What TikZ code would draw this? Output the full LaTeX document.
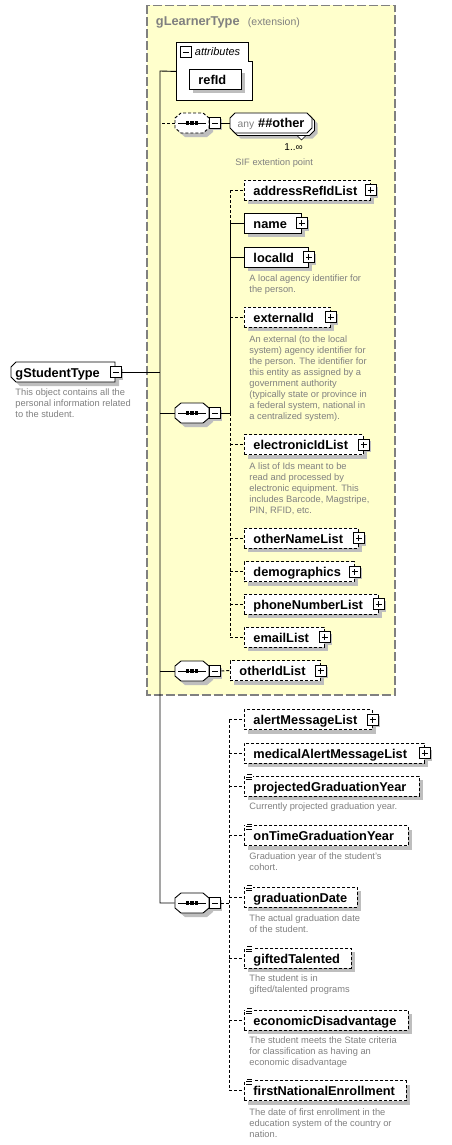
\documentclass[tikz,border=0pt]{standalone}
\usepackage{fontspec}
\setmainfont{Liberation Sans}
\definecolor{ylw}{RGB}{255,255,204}
\definecolor{dsc}{RGB}{128,128,128}
\definecolor{shdc}{RGB}{190,190,190}
\definecolor{brd}{RGB}{128,128,128}
\newcommand\elfont{\fontsize{12.8}{15}\selectfont\bfseries}
\newcommand\dfont{\fontsize{9.3}{11}\selectfont}
\newcommand\octpath{(-17,-5) -- (-11,-10) -- (11,-10) -- (17,-5) -- (17,5) -- (11,10) -- (-11,10) -- (-17,5) -- cycle}
\newcommand\anypath{(-41,-5) -- (-36,-10) -- (36,-10) -- (41,-5) -- (41,5) -- (36,10) -- (-36,10) -- (-41,5) -- cycle}
\newcommand\octa[2][]{\begin{scope}[shift={(#2.center)}]
  \fill[shdc,shift={(4,4)}] \octpath;
  \fill[shdc] (19,-3.5) rectangle (30,7.5);
  \draw[fill=white,#1] \octpath;
  \draw (-14,0) -- (14,0);
  \foreach \d in {-4.5,0,4.5}{\fill (\d-1.6,-1.6) rectangle (\d+1.6,1.6);}
 \end{scope}}
% element box: [opts]{name}{x}{y}{width}{text}
\newcommand\elem[6][]{%
  \fill[shdc] (#3+4,#4-6) rectangle (#3+#5+4,#4+14);
  \pgfmathsetmacro\tw{#5-18}%
  \node[el,#1,minimum width=#5pt,text width=\tw pt] (#2) at (#3,#4) {#6};}
% element box with plus icon
\newcommand\elemp[6][]{%
  \fill[shdc] (#3+4,#4-6) rectangle (#3+#5+4,#4+14);
  \fill[shdc] (#3+#5-3.5,#4-3.5) rectangle (#3+#5+7.5,#4+7.5);
  \pgfmathsetmacro\tw{#5-18}%
  \node[el,#1,minimum width=#5pt,text width=\tw pt] (#2) at (#3,#4) {#6};
  \node[pl] (#2p) at (#2.east) {};}
\begin{document}
\begin{tikzpicture}[x=1pt,y=-1pt,line width=0.9pt,
 opt/.style={dash pattern=on 3pt off 2pt},
 el/.style={draw,fill=white,minimum height=20pt,inner xsep=9pt,inner ysep=0pt,anchor=west,align=left,text height=10pt,text depth=0pt,font=\elfont},
 desc/.style={anchor=north west,inner sep=0pt,align=left,text=dsc,font=\dfont},
 icon/.style={draw,fill=white,minimum size=11pt,inner sep=0pt,line width=0.8pt,solid},
 mnp/.style={path picture={\draw[line width=0.9pt] ([xshift=2.5pt]path picture bounding box.west) -- ([xshift=-2.5pt]path picture bounding box.east);}},
 mn/.style={icon,mnp},
 pl/.style={icon,path picture={\draw[line width=0.9pt] ([xshift=2.5pt]path picture bounding box.west) -- ([xshift=-2.5pt]path picture bounding box.east); \draw[line width=0.9pt] ([yshift=2.5pt]path picture bounding box.south) -- ([yshift=-2.5pt]path picture bounding box.north);}},
 seqn/.style={minimum width=34pt,minimum height=20pt,inner sep=0pt},
]
\useasboundingbox (0,0) rectangle (452,1145);
% extension box
\draw[brd,fill=ylw,line width=1.2pt,dash pattern=on 9pt off 3pt] (147,5.5) rectangle (395,695);
\node[anchor=base west,inner sep=0,text=brd,font=\elfont] (ttl) at (155.5,26) {gLearnerType};
\node[anchor=base west,inner sep=0,text=brd,font=\fontsize{10.5}{12}\selectfont] (ext) at (247.5,26) {(extension)};

% attributes
\node[minimum width=76pt,minimum height=58pt,anchor=north west,inner sep=0] (attr) at (176,42) {};
\draw[fill=white] (176,42) -- (248,42) -- (248,61) -- (252,61) -- (252,100) -- (176,100) -- cycle;
\node[icon,mnp] (attm) at (185.5,52) {};
\node[anchor=west,inner sep=0,font=\fontsize{11}{13}\selectfont\itshape] (attl) at (194.5,52) {attributes};
\elem{refid}{189}{79.5}{52}{refId}

% root
\fill[shdc] (20,366) -- (119,366) -- (119,386) -- (20,386) -- (15,381) -- (15,371) -- cycle;
\fill[shdc] (112,369) rectangle (123,380);
\draw[fill=white] (16,362) -- (115,362) -- (115,382) -- (16,382) -- (11,377) -- (11,367) -- cycle;
\node[minimum width=104pt,minimum height=20pt,inner xsep=4pt,inner ysep=0pt,text width=96pt,align=left,text height=10pt,text depth=0pt,font=\elfont,anchor=west] (gst) at (11,372) {gStudentType};
\node[mn] (gstm) at (gst.east) {};
\node[desc] (gstd) at (15,388) {This object contains all the\\personal information related\\to the student.};

% sequences
\node[seqn] (s1) at (192,123) {};
\octa[opt]{s1}
\node[mn,anchor=west] (s1m) at (s1.east) {};
\node[seqn] (s2) at (192,413) {};
\octa{s2}
\node[mn,anchor=west] (s2m) at (s2.east) {};
\node[seqn] (s3) at (192,671) {};
\octa{s3}
\node[mn,anchor=west] (s3m) at (s3.east) {};
\node[seqn] (s4) at (192,903) {};
\octa{s4}
\node[mn,anchor=west] (s4m) at (s4.east) {};

% any
\begin{scope}[shift={(271,123)}]
  \fill[shdc,shift={(5.5,5.5)}] \anypath;
  \draw[fill=white,shift={(2.5,2.5)}] \anypath;
  \draw[fill=white] \anypath;
\end{scope}
\node[minimum width=82pt,minimum height=20pt,inner sep=0pt,text height=10pt,text depth=0pt] (any) at (271,123) {{\color{dsc}\fontsize{10.3}{12}\selectfont any}\hspace{4pt}{\elfont\#\#other}};
\draw[fill=white,line width=0.6pt] (297,135.5) -- (306,135.5) -- (301.5,140) -- cycle;
\node[anchor=west,inner sep=0,font=\fontsize{10}{12}\selectfont] (mult) at (284,147) {1..∞};
\node[desc] (sif) at (235,158.5) {SIF extention point};

% sequence 2 children
\elemp[opt]{addr}{244}{190}{126}{addressRefIdList}
\elemp{name}{244}{223}{57}{name}
\elemp{lid}{244}{257}{64}{localId}
\node[desc] (lidd) at (249,274.5) {A local agency identifier for\\the person.};
\elemp[opt]{xid}{244}{317}{86}{externalId}
\node[desc] (xidd) at (249,335.5) {An external (to the local\\system) agency identifier for\\the person. The identifier for\\this entity as assigned by a\\government authority\\(typically state or province in\\a federal system, national in\\a centralized system).};
\elemp[opt]{eid}{244}{444.5}{119}{electronicIdList}
\node[desc] (eidd) at (249,462) {A list of Ids meant to be\\read and processed by\\electronic equipment. This\\includes Barcode, Magstripe,\\PIN, RFID, etc.};
\elemp[opt]{onl}{244}{538}{114}{otherNameList}
\elemp[opt]{demo}{244}{571.5}{110}{demographics}
\elemp[opt]{phone}{244}{604}{134}{phoneNumberList}
\elemp[opt]{email}{244}{637}{80}{emailList}

% sequence 3 child
\elemp[opt]{oid}{230}{670.5}{90}{otherIdList}

% sequence 4 children
\elemp[opt]{alert}{244}{719.5}{128}{alertMessageList}
\elemp[opt]{malert}{244}{753}{180}{medicalAlertMessageList}
\elem[opt]{pgy}{244}{786}{175}{projectedGraduationYear}
\node[desc] (pgyd) at (249,802.5) {Currently projected graduation year.};
\elem[opt]{otgy}{244}{835.5}{164}{onTimeGraduationYear}
\node[desc] (otgyd) at (249,852.5) {Graduation year of the student's\\cohort.};
\elem[opt]{gd}{244}{897}{113}{graduationDate}
\node[desc] (gdd) at (249,914.5) {The actual graduation date\\of the student.};
\elem[opt]{gt}{244}{958}{107}{giftedTalented}
\node[desc] (gtd) at (249,974.5) {The student is in\\gifted/talented programs};
\elem[opt]{ed}{244}{1020}{164}{economicDisadvantage}
\node[desc] (edd) at (249,1036.5) {The student meets the State criteria\\for classification as having an\\economic disadvantage};
\elem[opt]{fne}{244}{1090.5}{162}{firstNationalEnrollment}
\node[desc] (fned) at (249,1108.5) {The date of first enrollment in the\\education system of the country or\\nation.};
\foreach \n in {pgy,otgy,gd,gt,ed,fne}{
  \fill[white] ([xshift=1pt,yshift=2pt]\n.north west) rectangle ([xshift=9pt,yshift=-5pt]\n.north west);
  \draw[line width=0.7pt] ([xshift=3pt,yshift=1pt]\n.north west) -- +(5,0);
  \draw[line width=0.7pt] ([xshift=2pt,yshift=-1.5pt]\n.north west) -- +(6,0);
  \draw[line width=0.7pt] ([xshift=2pt,yshift=-4pt]\n.north west) -- +(6,0);
}

% connectors
\coordinate (vtop) at (160,71);
\coordinate (vbot) at (160,903);
\draw (gstm.east) -- (gstm.east -| vtop);
\draw (attr.west) -- (vtop) -- (vbot) -- (s4.west);
\draw[opt] (s1.west) -- (s1.west -| vtop);
\draw (s2.west) -- (s2.west -| vtop);
\draw (s3.west) -- (s3.west -| vtop);
\draw (s1m.east) -- (any.west);
\draw[opt] (s3m.east) -- (oid.west);
% seq 2 branch
\coordinate (b2) at (230,413);
\draw (s2m.east) -- (b2);
\draw[opt] (addr.west -| b2) -- (name.west -| b2);
\draw (name.west -| b2) -- (b2);
\draw[opt] (b2) -- (email.west -| b2);
\draw (name.west -| b2) -- (name.west);
\draw (lid.west -| b2) -- (lid.west);
\foreach \n in {addr,xid,eid,onl,demo,phone,email}{\draw[opt] (\n.west -| b2) -- (\n.west);}
% seq 4 branch
\coordinate (b4) at (229,903);
\draw[opt] (s4m.east) -- (b4);
\draw[opt] (alert.west -| b4) -- (fne.west -| b4);
\foreach \n in {alert,malert,pgy,otgy,gd,gt,ed,fne}{\draw[opt] (\n.west -| b4) -- (\n.west);}
\end{tikzpicture}
\end{document}
